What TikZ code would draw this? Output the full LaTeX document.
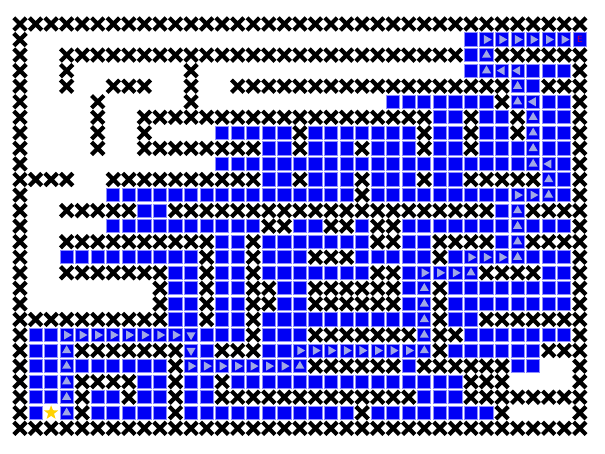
\documentclass[tikz,border=0pt]{standalone}
\usepackage{xcolor}
\usepackage{tikz}
\usetikzlibrary{shapes.misc, shapes.geometric}

\definecolor{cellblue}{RGB}{0,0,245}
\definecolor{cellrim}{RGB}{140,140,255}
\definecolor{arrowgrey}{RGB}{160,168,230}
\definecolor{stargold}{RGB}{255,210,0}
\definecolor{endred}{RGB}{200,0,70}

\begin{document}
\begin{tikzpicture}[
  x=1pt, y=1pt,
  cellb/.style={draw=cellrim, fill=cellblue, line width=0.9pt, minimum size=13.2pt, inner sep=0pt},
  wall/.style={draw=black, cross out, line width=4.2pt, minimum size=8.2pt, inner sep=0pt},
  arrowtri/.style={regular polygon, regular polygon sides=3, fill=arrowgrey, minimum size=10.5pt, inner sep=0pt},
  tok/X/.style={wall},
  tok/o/.style={},
  tok/B/.style={cellb},
  tok/U/.style={cellb, label={[arrowtri]center:}},
  tok/R/.style={cellb, label={[arrowtri, rotate=-90]center:}},
  tok/L/.style={cellb, label={[arrowtri, rotate=90]center:}},
  tok/D/.style={cellb, label={[arrowtri, rotate=180]center:}},
  tok/S/.style={star, star points=5, star point ratio=2.4, fill=stargold, minimum size=15pt, inner sep=0pt},
  tok/E/.style={cellb, label={[font=\sffamily\small, text=endred, inner sep=0pt]center:E}}
]
  \useasboundingbox (0,0) rectangle (605,-454);

  % maze rows, top to bottom
  \foreach \line [count=\r from 0] in {
    {X,X,X,X,X,X,X,X,X,X,X,X,X,X,X,X,X,X,X,X,X,X,X,X,X,X,X,X,X,X,X,X,X,X,X,X,X},
    {X,o,o,o,o,o,o,o,o,o,o,o,o,o,o,o,o,o,o,o,o,o,o,o,o,o,o,o,o,B,R,R,R,R,R,R,E},
    {X,o,o,X,X,X,X,X,X,X,X,X,X,X,X,X,X,X,X,X,X,X,X,X,X,X,X,X,X,B,U,X,X,X,X,X,X},
    {X,o,o,X,o,o,o,o,o,o,o,X,o,o,o,o,o,o,o,o,o,o,o,o,o,o,o,o,o,B,U,L,L,B,B,B,X},
    {X,o,o,X,o,o,X,X,X,o,o,X,o,o,X,X,X,X,X,X,X,X,X,X,X,X,X,X,X,X,X,X,U,B,X,X,X},
    {X,o,o,o,o,X,o,o,o,o,o,X,o,o,o,o,o,o,o,o,o,o,o,o,B,B,B,B,B,B,B,X,U,L,B,B,X},
    {X,o,o,o,o,X,o,o,X,X,X,X,X,X,X,X,X,X,X,X,X,X,X,X,X,X,X,B,B,X,B,B,X,U,B,B,X},
    {X,o,o,o,o,X,o,o,X,o,o,o,o,B,B,B,B,B,X,B,B,B,B,B,B,B,X,B,B,X,B,B,X,U,B,B,X},
    {X,o,o,o,o,X,o,o,X,X,X,X,X,X,X,X,B,B,X,B,B,B,X,B,B,B,X,B,B,X,B,B,B,U,B,B,X},
    {X,o,o,o,o,o,o,o,o,o,o,o,o,B,B,B,B,B,B,B,B,B,B,B,B,B,B,B,B,B,B,B,B,U,L,B,X},
    {X,X,X,X,o,o,X,X,X,X,X,X,X,X,X,X,B,B,X,B,B,B,X,B,B,B,X,B,B,X,X,X,X,X,U,B,X},
    {X,o,o,o,o,o,B,B,B,B,B,B,B,B,B,B,B,B,B,B,B,B,X,B,B,B,B,B,B,B,B,B,R,R,U,B,X},
    {X,o,o,X,X,X,X,X,B,B,X,X,X,X,X,X,X,X,X,X,X,X,X,X,X,X,X,X,X,X,X,B,U,X,X,X,X},
    {X,o,o,o,o,o,B,B,B,B,B,B,B,B,B,B,X,X,B,B,X,X,B,X,X,B,B,B,B,B,B,B,U,B,B,B,X},
    {X,o,o,X,X,X,X,X,X,X,X,X,X,B,B,X,B,B,B,B,B,B,B,X,X,B,B,X,X,X,X,B,U,X,X,X,X},
    {X,o,o,B,B,B,B,B,B,B,B,B,X,B,B,X,B,B,B,X,X,X,B,B,B,B,B,X,B,R,R,R,U,B,B,B,X},
    {X,o,o,X,X,X,X,X,X,X,B,B,X,B,B,X,B,B,B,B,B,B,B,X,X,B,R,R,R,U,X,X,X,X,B,B,X},
    {X,o,o,o,o,o,o,o,o,X,B,B,X,B,B,X,X,B,B,X,X,X,X,X,X,B,U,X,B,B,B,B,B,B,B,B,X},
    {X,o,o,o,o,o,o,o,o,X,B,B,X,B,B,X,X,B,B,X,X,X,X,X,X,B,U,X,B,B,B,B,B,B,B,B,X},
    {X,X,X,X,X,X,X,X,X,X,B,B,X,B,B,X,B,B,B,B,B,B,B,B,B,B,U,X,B,B,X,X,X,X,X,X,X},
    {X,B,B,R,R,R,R,R,R,R,R,D,B,B,B,X,B,B,B,X,X,X,X,X,X,X,U,X,X,B,B,B,B,B,B,B,X},
    {X,B,B,U,X,X,X,X,X,X,X,D,B,X,X,X,B,B,R,R,R,R,R,R,R,R,U,X,B,B,B,B,B,B,X,X,X},
    {X,B,B,U,B,B,B,B,B,B,X,R,R,R,R,R,R,R,U,X,X,X,X,X,X,B,X,X,X,X,X,X,B,B,o,o,X},
    {X,B,B,U,X,X,X,X,B,B,X,B,B,X,B,B,B,B,B,B,B,B,B,B,B,B,B,B,B,X,X,X,o,o,o,o,X},
    {X,B,B,U,X,B,B,X,B,B,X,B,B,X,X,X,X,X,X,X,X,X,X,X,X,X,B,B,B,X,X,X,X,X,X,X,X},
    {X,B,S,U,X,B,B,B,B,B,X,B,B,B,B,B,B,B,B,B,B,B,X,B,B,B,B,B,B,B,B,X,o,o,o,o,X},
    {X,X,X,X,X,X,X,X,X,X,X,X,X,X,X,X,X,X,X,X,X,X,X,X,X,X,X,X,X,X,X,X,X,X,X,X,X}%
  }{
    \foreach \t [count=\c from 0] in \line
      \node[tok/\t] (m-\r-\c) at ({20+15.55*\c},{-24-15.55*\r}) {};
  }
\end{tikzpicture}
\end{document}
